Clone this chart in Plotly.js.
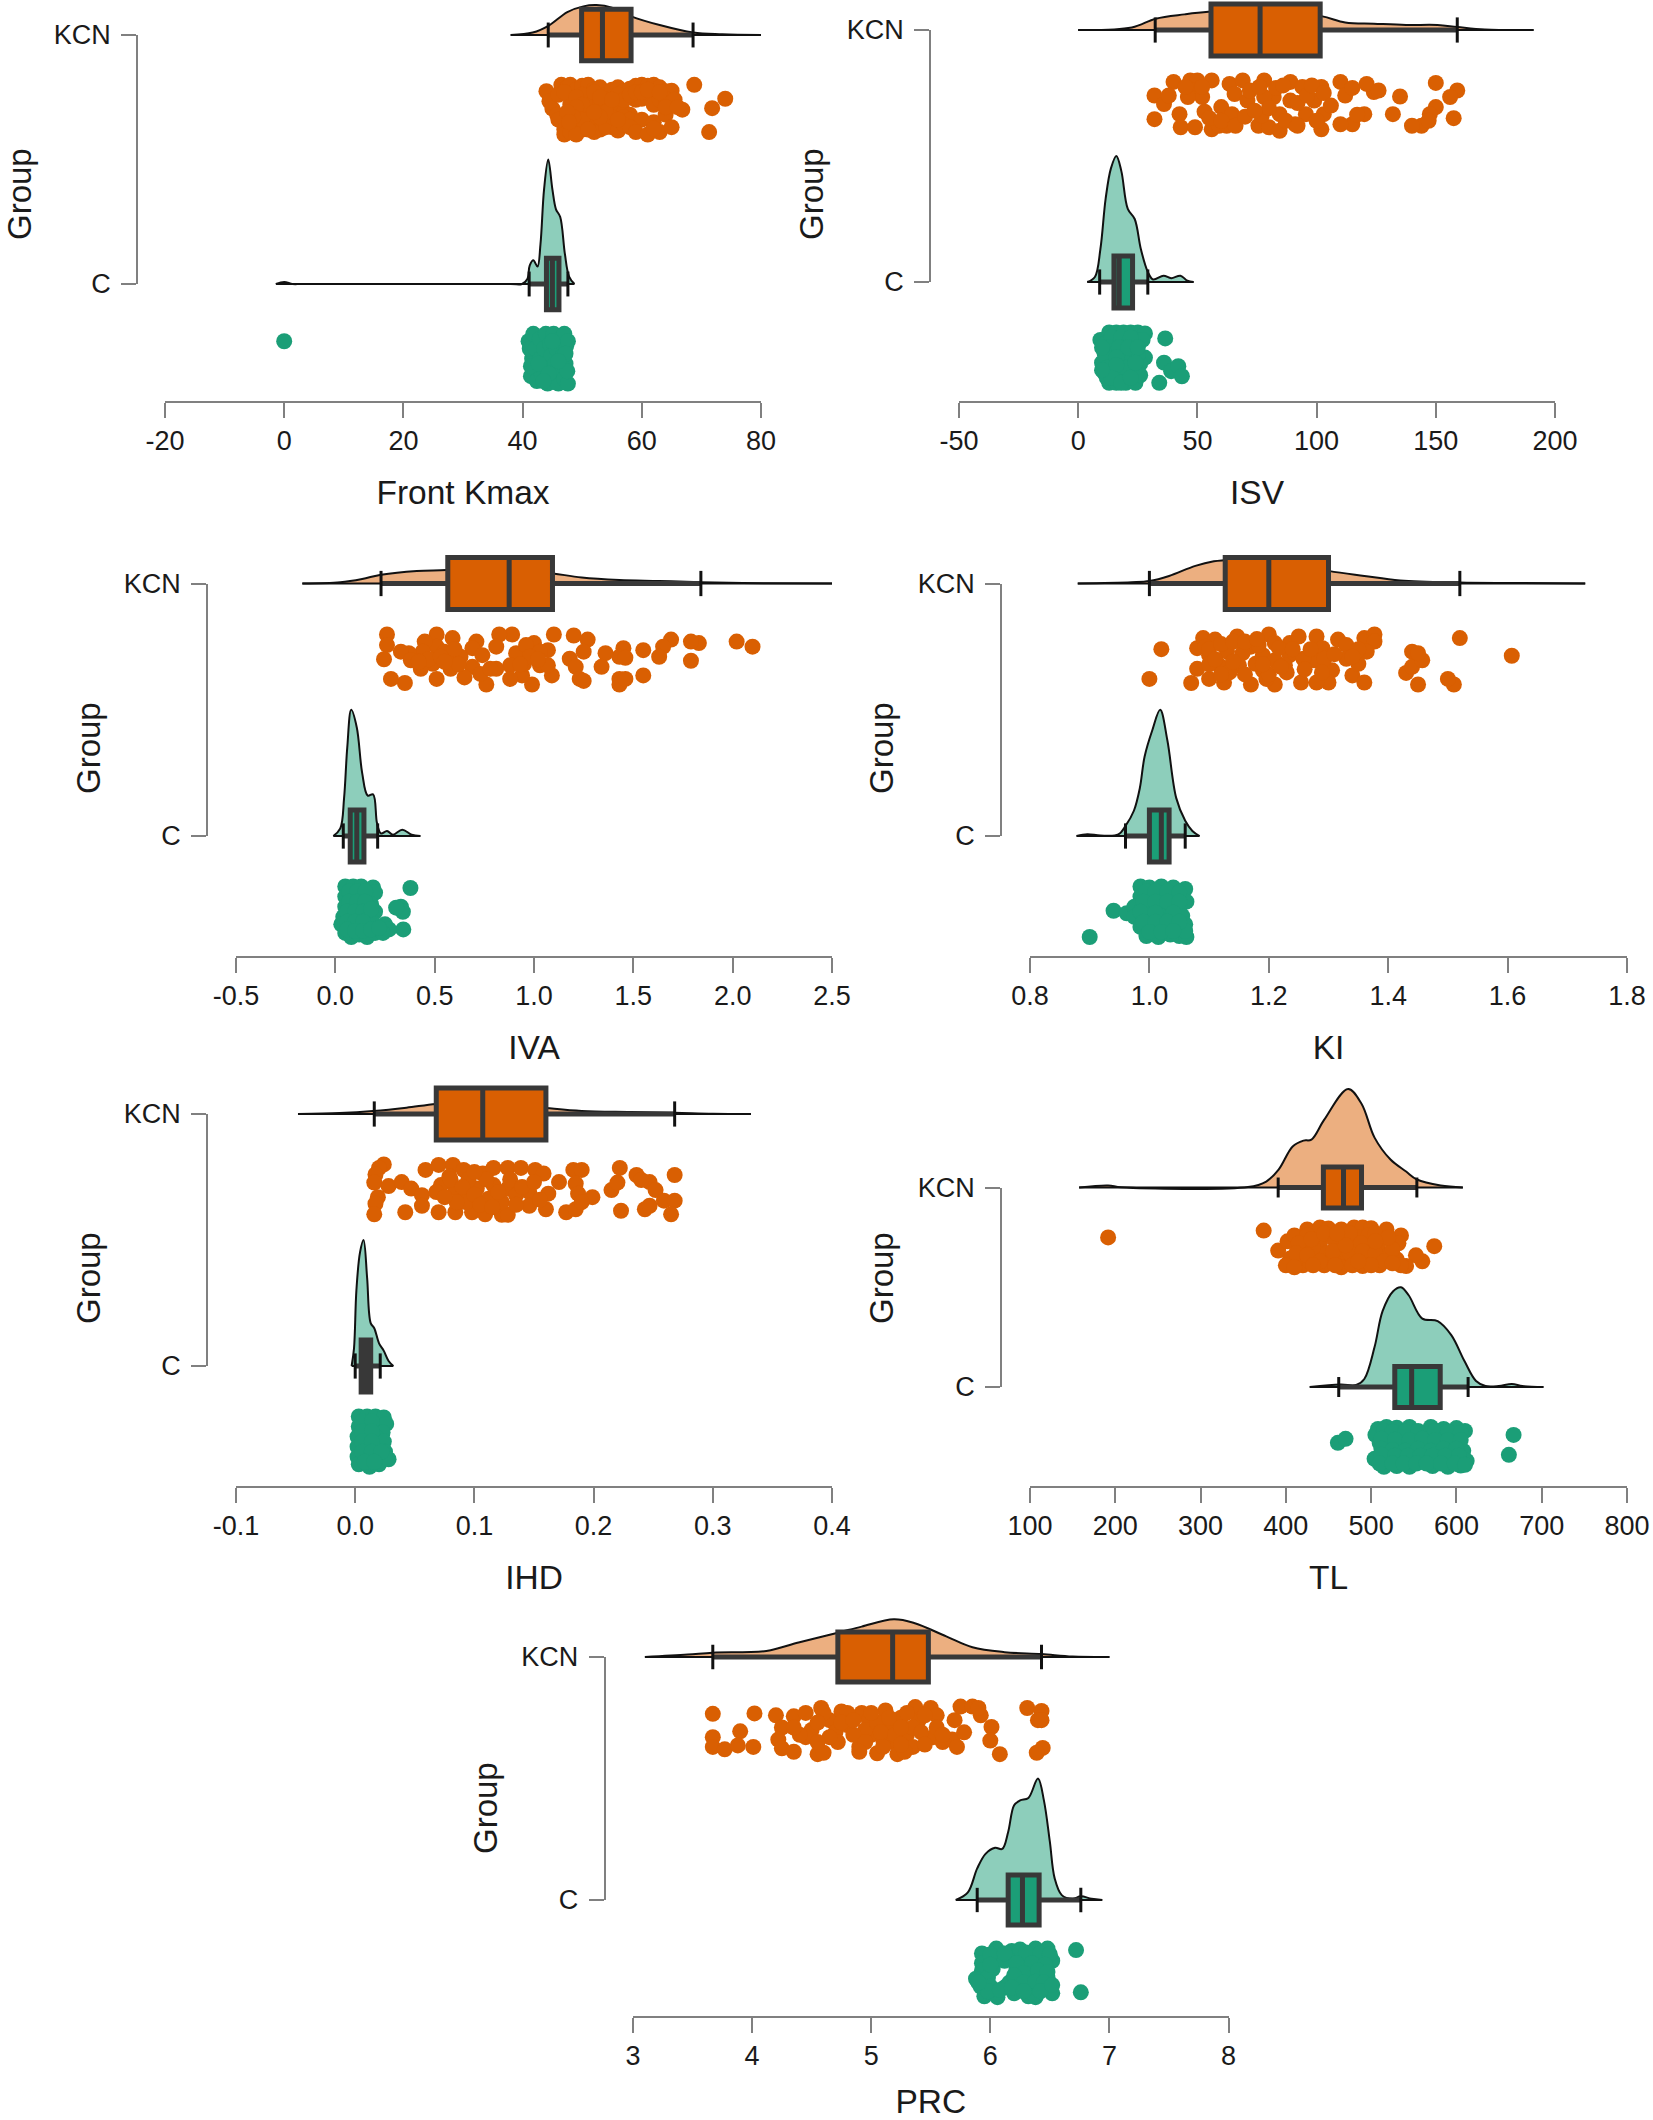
<!DOCTYPE html>
<html>
<head>
<meta charset="utf-8">
<script src="https://cdn.plot.ly/plotly-3.0.1.min.js"></script>
<style>body{margin:0;background:#fff}</style>
</head>
<body>
<div id="myDiv"></div>
<script>
// group labels, C is the lower row
let groupVals = [1, 2];
let groupText = ['C', 'KCN'];

// ---- Front Kmax
let kmaxTicks = [-20, 0, 20, 40, 60, 80];
let kmaxLabels = ['-20', '0', '20', '40', '60', '80'];
let kmaxKcnBox = [44.3, 49.9, 53.4, 58.2, 68.6];
let kmaxCBox = [41.1, 44, 45, 46.1, 47.6];
let kmaxKcnDens = [[38,0],[41.7,.01],[44.4,.038],[47.5,.092],[50.2,.115],[52.4,.12],[55,.11],[58.2,.075],[63,.04],[68.6,.01],[73.5,.003],[80,0]];
let kmaxCDens = [[-1.4,0],[0,.008],[1.4,0],[3,0],[38,0],[39.9,0],[40.8,.02],[41.2,.075],[41.8,.095],[42.5,.07],[43,.16],[43.6,.38],[44.3,.5],[45,.38],[45.6,.3],[46.3,.27],[47.1,.12],[47.8,.03],[48.7,0]];
let kmaxKcnPts = [[68.8,0],[74,.28],[71.8,.47],[71.3,.95],[44,.13],[44.5,.33],[45,.48],[45.8,.6],[46.5,0],[47.5,.05],[48,0],[49,.1],[50,.02],[51,0],[52,.1],[53,.05],[54,.2],[55,.1],[56,.05],[57,.13],[58,.08],[59,.02],[60,0],[61,.02],[62,0],[63,.05],[64,.13],[65,.12],[46,.7],[47,.9],[48,.4],[49,.6],[50,.2],[51,.5],[52,.35],[53,.4],[54,.3],[55,.6],[56,.4],[57,.55],[58,.6],[59,.3],[60,.28],[61,.25],[62,.4],[63,.3],[64,.28],[65.5,.3],[66.8,.5],[47,1],[48,.8],[49,.75],[50,.9],[51,.75],[52,.7],[53,.9],[54,.75],[55,.85],[57,.65],[58,.7],[60,.7],[62,.75],[63,.95],[64,.6],[65,.85],[48,.95],[49,1],[50,.55],[51,.7],[52,.95],[53,.5],[54,.85],[55,.65],[56,.92],[57,.8],[58,.85],[59,.95],[61,1],[62,.88],[64,.45],[66,.45],[46,.2],[47,.15],[49,.25],[50,.4],[52,.15],[53,.25],[54,.55],[56,.2],[57,.3],[58,.2],[49,.45],[50,.7],[48.5,.65],[51,.9],[53,.65],[55,.3],[59,.15],[60,.15],[61,.1],[63,.15],[47.5,.55],[52,.55],[56,.7],[47.8,.75]];
let kmaxCPts = [[0,.15],[41,.15],[41.4,.85],[41.6,.5],[41.2,.3],[41.8,0],[42,.7],[42.2,.3],[42.4,.95],[42.9,.1],[43,.5],[43.2,.8],[43.6,.3],[43.9,0],[44,.65],[44.2,1],[44.6,.2],[44.8,.45],[45,.85],[45.2,0],[45.5,.6],[45.7,.3],[46,1],[46.2,.75],[46.4,.1],[46.7,.45],[47,0],[47,.9],[47.2,.6],[47.3,.25],[47.6,1],[47.5,.75],[47.6,.15],[47.2,.4],[41.4,.65],[42.7,.6],[44.4,.8],[43.5,.95],[46,.55],[45,.15]];

// ---- ISV
let isvTicks = [-50, 0, 50, 100, 150, 200];
let isvLabels = ['-50', '0', '50', '100', '150', '200'];
let isvKcnBox = [32.3, 55.7, 76.3, 101.5, 159];
let isvCBox = [9, 15, 17.2, 22.8, 29.2];
let isvKcnDens = [[0,0],[22.5,.01],[32.5,.045],[44.6,.062],[54.6,.072],[78,.08],[102,.055],[112,.03],[124,.025],[137.5,.02],[150.7,.02],[159,.012],[170.6,.002],[191,0]];
let isvCDens = [[3.8,0],[7,.02],[9.3,.13],[11.5,.33],[13.7,.45],[16,.5],[18.1,.44],[20.8,.29],[23.7,.25],[26.3,.13],[29.2,.04],[31.4,.01],[35.8,.025],[39,.015],[42.9,.025],[45.8,.005],[48.4,0]];
let isvKcnPts = [[150,.05],[159,.2],[156,.33],[157.5,.75],[150,.53],[147.5,.67],[144,.9],[140,.9],[147,.8],[132,.67],[135,.32],[124,.23],[121,.07],[126,.2],[120,.67],[115,.87],[110,.87],[110,.03],[112,.3],[115,.15],[117,.68],[32,.3],[32,.77],[36,.47],[40,.03],[47,0],[50,0],[56,0],[49,.2],[52,.33],[42.5,.67],[43,.93],[49,.93],[56,.97],[60,.53],[59,.9],[63.5,.07],[69,0],[78,0],[65.6,.27],[71,.4],[64.5,.67],[62.3,.9],[75.6,.9],[80,.93],[84.5,1],[89,.03],[82,.33],[78,.33],[89,.4],[84.5,.67],[91,.87],[94,.13],[102,.13],[99,.4],[103,.67],[102,.97],[95.5,.67],[38,.3],[46,.33],[45,.13],[52,.13],[53,.62],[55,.75],[60,.8],[66,.9],[70,.72],[72,.2],[77,.7],[80,.55],[83,.15],[86,.1],[87,.8],[92,.45],[96,.3],[98,.1],[100,.8],[103,.25],[106,.5],[76,.13],[74,.6],[92,.9]];
let isvCPts = [[36.5,.12],[36,.6],[39,.77],[42,.67],[43.5,.87],[34,1],[9.3,.15],[13,0],[16,0],[19,0],[22,0],[25,0],[28,.02],[12,.2],[16,.2],[20,.15],[24,.2],[27,.15],[11,.4],[15,.4],[19,.4],[23,.38],[10,.6],[14,.6],[18,.6],[22,.6],[28,.5],[11,.8],[15,.75],[19,.8],[23,.75],[26,.62],[13,1],[16,1],[20,1],[24,1],[26,.85],[12,.9],[18,.88],[21,.5],[25,.45],[14,.1],[18,.1],[22,.1],[13,.3],[17,.3],[21,.3],[25,.3],[12,.5],[16,.5],[20,.7],[24,.6],[12,.7],[16,.65],[14,.9],[18,1],[22,.9],[10,.3],[10,.75]];

// ---- IVA
let ivaTicks = [-0.5, 0, 0.5, 1, 1.5, 2, 2.5];
let ivaLabels = ['-0.5', '0.0', '0.5', '1.0', '1.5', '2.0', '2.5'];
let ivaKcnBox = [.23, .566, .875, 1.093, 1.84];
let ivaCBox = [.04, .075, .108, .144, .213];
let ivaKcnDens = [[-.166,0],[.025,.005],[.135,.018],[.23,.035],[.41,.05],[.56,.053],[.85,.065],[1.096,.04],[1.24,.024],[1.43,.014],[1.63,.01],[1.84,.005],[2.18,.001],[2.5,0]];
let ivaCDens = [[-.01,0],[.025,.03],[.044,.15],[.06,.35],[.08,.5],[.108,.43],[.135,.25],[.163,.16],[.19,.165],[.21,.05],[.23,.01],[.26,.02],[.29,.005],[.337,.025],[.384,.005],[.428,0]];
let ivaKcnPts = [[2.1,.25],[2.02,.15],[1.83,.18],[1.79,.15],[1.79,.53],[1.69,.11],[1.65,.25],[1.63,.45],[1.55,.32],[1.55,.82],[1.45,.28],[1.43,.45],[1.46,.47],[1.36,.38],[1.34,.65],[1.43,.89],[1.43,1],[1.46,.89],[1.27,.11],[1.25,.35],[1.2,.03],[1.18,.49],[1.21,.65],[1.23,.89],[1.25,.93],[1.1,.01],[1.07,.32],[1.09,.82],[1.03,.62],[.99,1],[1,.18],[.94,.82],[.89,.01],[.825,.01],[.81,.25],[.91,.38],[.88,.62],[.88,.89],[.76,1],[.71,.15],[.69,.28],[.74,.42],[.69,.65],[.73,.79],[.81,.69],[.65,.86],[.59,.08],[.51,.01],[.51,.25],[.55,.35],[.59,.49],[.49,.59],[.58,.69],[.51,.89],[.45,.15],[.44,.35],[.43,.69],[.37,.38],[.33,.35],[.35,.97],[.28,.89],[.26,.01],[.26,.22],[.245,.5],[.38,.52],[.96,.22],[1.03,.35],[1.07,.62],[.63,.45],[.78,.69],[.95,.59],[.6,.3],[.62,.6],[.47,.5],[.53,.45],[.98,.45],[.93,.6],[1.02,.5],[.42,.55],[.55,.55]];
let ivaCPts = [[.378,.03],[.33,.4],[.34,.5],[.306,.42],[.342,.85],[.05,0],[.09,0],[.13,0],[.19,.02],[.05,.2],[.09,.2],[.13,.18],[.17,.15],[.2,.12],[.05,.4],[.09,.4],[.13,.4],[.18,.35],[.04,.6],[.08,.6],[.12,.6],[.16,.55],[.2,.5],[.03,.75],[.07,.78],[.11,.78],[.15,.75],[.19,.72],[.25,.75],[.27,.85],[.05,.92],[.08,1],[.12,.95],[.16,1],[.2,.92],[.24,.92],[.07,.1],[.11,.1],[.15,.1],[.07,.3],[.11,.3],[.15,.3],[.06,.5],[.1,.5],[.14,.5],[.18,.45],[.06,.7],[.1,.7],[.14,.7],[.06,.85],[.1,.88],[.14,.88],[.18,.85],[.22,.82]];

// ---- KI
let kiTicks = [.8, 1, 1.2, 1.4, 1.6, 1.8];
let kiLabels = ['0.8', '1.0', '1.2', '1.4', '1.6', '1.8'];
let kiKcnBox = [1, 1.127, 1.2, 1.3, 1.52];
let kiCBox = [.96, 1, 1.02, 1.033, 1.06];
let kiKcnDens = [[.88,0],[.97,.005],[1,.01],[1.033,.03],[1.077,.07],[1.108,.088],[1.125,.092],[1.2,.1],[1.3,.05],[1.36,.03],[1.42,.012],[1.52,.004],[1.61,.002],[1.73,0]];
let kiCDens = [[.878,0],[.896,.007],[.918,.002],[.948,.006],[.96,.04],[.974,.1],[.984,.19],[.992,.315],[1.005,.42],[1.018,.5],[1.03,.38],[1.045,.15],[1.06,.06],[1.072,.02],[1.084,0]];
let kiKcnPts = [[1.607,.43],[1.52,.08],[1.51,1],[1.5,.89],[1.45,1],[1.43,.77],[1.44,.65],[1.44,.35],[1.457,.52],[1.45,.38],[1.02,.3],[1,.89],[1.07,.97],[1.08,.69],[1.1,.89],[1.125,.96],[1.08,.28],[1.09,.08],[1.11,.11],[1.1,.42],[1.13,.35],[1.117,.62],[1.147,.05],[1.15,.62],[1.17,1],[1.17,.25],[1.2,.01],[1.21,.18],[1.19,.42],[1.21,.52],[1.19,.72],[1.21,1],[1.235,.18],[1.25,.05],[1.235,.42],[1.227,.62],[1.254,.96],[1.28,.05],[1.29,.28],[1.276,.52],[1.306,.72],[1.3,.96],[1.28,.96],[1.316,.11],[1.33,.22],[1.33,.49],[1.34,.82],[1.36,.96],[1.35,.59],[1.36,.08],[1.377,.01],[1.377,.15],[1.364,.35],[1.156,.38],[1.134,.76],[1.094,.25],[1.258,.49],[1.293,.49],[1.178,.59],[1.217,.28],[1.183,.22],[1.289,.76],[1.23,.76],[1.196,.89],[1.1,.3],[1.12,.2],[1.14,.15],[1.16,.15],[1.18,.1],[1.1,.6],[1.12,.8],[1.14,.55],[1.16,.8],[1.2,.8],[1.22,.65],[1.24,.3],[1.26,.7],[1.27,.3],[1.31,.4],[1.35,.3],[1.34,.45],[1.11,.5],[1.19,.6]];
let kiCPts = [[.9,1],[.94,.48],[.962,.53],[.985,0],[1,.02],[1.02,0],[1.04,.02],[1.06,.05],[.985,.2],[1,.22],[1.02,.18],[1.04,.22],[1.062,.3],[.975,.4],[.995,.42],[1.03,.42],[1.05,.4],[.975,.6],[1,.65],[1.02,.6],[1.04,.62],[1.055,.58],[.985,.8],[1.005,.8],[1.025,.78],[1.045,.8],[1.06,.75],[.995,.98],[1.015,1],[1.035,.95],[1.05,.98],[1.062,1],[1.06,.88],[1.015,.42],[.995,.1],[1.01,.1],[1.03,.1],[1.05,.12],[.99,.3],[1.01,.3],[1.03,.3],[1.05,.3],[.985,.5],[1.01,.52],[1.04,.52],[.99,.7],[1.01,.7],[1.03,.7],[1.05,.7],[1,.9],[1.02,.9],[1.04,.88]];

// ---- IHD
let ihdTicks = [-.1, 0, .1, .2, .3, .4];
let ihdLabels = ['-0.1', '0.0', '0.1', '0.2', '0.3', '0.4'];
let ihdKcnBox = [.016, .068, .107, .16, .268];
let ihdCBox = [0, .005, .009, .013, .021];
let ihdKcnDens = [[-.048,0],[-.013,.004],[.015,.012],[.043,.025],[.068,.04],[.107,.05],[.16,.024],[.19,.012],[.231,.008],[.268,.005],[.3,.001],[.332,0]];
let ihdCDens = [[-.003,0],[-.001,.07],[.001,.3],[.004,.45],[.007,.5],[.01,.35],[.013,.17],[.016,.15],[.02,.09],[.024,.06],[.028,.02],[.032,0]];
let ihdKcnPts = [[.024,0],[.02,.07],[.017,.2],[.016,.36],[.028,.43],[.019,.65],[.017,.78],[.016,.99],[.042,.95],[.039,.35],[.047,.48],[.059,.11],[.07,.01],[.082,.01],[.056,.61],[.056,.82],[.07,.95],[.084,.95],[.072,.41],[.079,.24],[.091,.11],[.089,.61],[.098,.95],[.109,.99],[.107,.18],[.116,.07],[.102,.48],[.112,.68],[.123,1],[.128,1],[.128,.07],[.139,.07],[.128,.48],[.123,.75],[.135,.61],[.151,.11],[.158,.18],[.146,.55],[.146,.82],[.16,.89],[.162,.58],[.171,.35],[.183,.11],[.19,.11],[.185,.38],[.187,.58],[.177,.95],[.185,.89],[.199,.65],[.19,.75],[.215,.51],[.22,.36],[.222,.07],[.223,.92],[.236,.21],[.247,.35],[.252,.51],[.259,.72],[.243,.89],[.247,.82],[.268,.21],[.268,.72],[.265,.99],[.24,.31],[.093,.75],[.068,.55],[.084,.48],[.116,.41],[.08,.3],[.095,.3],[.11,.3],[.09,.45],[.1,.6],[.085,.75],[.105,.8],[.12,.55],[.13,.3],[.14,.45],[.075,.65],[.1,.15],[.115,.85],[.135,.8],[.15,.35],[.155,.7]];
let ihdCPts = [[.003,0],[.01,0],[.017,0],[.024,.02],[.003,.2],[.01,.2],[.017,.2],[.026,.15],[.023,.32],[.002,.4],[.01,.4],[.018,.42],[.002,.6],[.01,.6],[.018,.6],[.024,.5],[.002,.8],[.01,.8],[.018,.8],[.025,.7],[.003,.95],[.012,1],[.02,.95],[.028,.85],[.006,.1],[.014,.1],[.006,.3],[.014,.3],[.006,.5],[.014,.5],[.006,.7],[.014,.7],[.022,.7],[.008,.9],[.016,.9]];

// ---- TL
let tlTicks = [100, 200, 300, 400, 500, 600, 700, 800];
let tlLabels = ['100', '200', '300', '400', '500', '600', '700', '800'];
let tlKcnBox = [391, 444, 467.6, 488.7, 553.6];
let tlCBox = [462, 527.7, 547.5, 581, 613.7];
let tlKcnDens = [[157.6,0],[191.6,.01],[207,.001],[355.6,.002],[377,.03],[391.5,.09],[408,.206],[420.6,.235],[430,.24],[445,.34],[473,.494],[488.7,.42],[504,.25],[522.7,.14],[541,.08],[553.7,.04],[581.5,.01],[607.5,0]];
let tlCDens = [[428,0],[464,.012],[482.5,.01],[492,.04],[504,.2],[513.4,.38],[525.8,.48],[535,.5],[544,.46],[560,.343],[578,.33],[594,.26],[609.4,.13],[623,.03],[634,.005],[649.6,.005],[665,.015],[677.4,.005],[702,0]];
let tlKcnPts = [[191.6,.25],[374,.08],[391,.58],[574,.47],[560,.85],[552.5,.7],[541,.97],[402,.35],[410,.2],[405,.78],[400,.95],[418,.55],[425,.05],[440,0],[450,.03],[420,.95],[425,.2],[435,.7],[440,.4],[452,.2],[448,.65],[445,.95],[465,.05],[470,.3],[462,.55],[468,.8],[465,1],[480,0],[490,0],[500,.02],[485,.25],[478,.5],[482,.75],[490,.97],[497,.2],[495,.5],[500,.75],[510,.95],[518,.05],[512,.3],[508,.5],[520,.7],[535,.2],[532,.4],[530,.8],[535,.95],[525,.55],[455,.8],[428,.85],[432,.5],[415,.4],[430,.3],[445,.15],[458,.35],[475,.15],[488,.4],[505,.15],[520,.25],[412,.65],[425,.7],[440,.85],[455,.6],[475,.65],[490,.6],[505,.65],[515,.85],[458,.95],[478,.95],[500,.95],[525,.9],[410,1],[432,.95],[470,.45],[485,.85],[505,.35],[460,.15]];
let tlCPts = [[461,.4],[470,.3],[667,.2],[661.5,.7],[508,.05],[518,0],[530,.02],[545,0],[570,0],[585,.05],[600,.03],[610,.1],[505,.2],[520,.2],[535,.25],[550,.2],[565,.18],[580,.25],[595,.2],[510,.4],[525,.45],[540,.4],[555,.42],[570,.45],[585,.42],[600,.45],[518,.6],[532,.62],[548,.6],[562,.6],[578,.65],[592,.6],[608,.6],[504,.8],[520,.82],[535,.8],[550,.82],[565,.8],[580,.85],[596,.8],[612,.85],[515,1],[530,.98],[545,1],[572,.98],[590,1],[605,.97],[515,.1],[525,.12],[540,.12],[555,.1],[575,.1],[590,.12],[605,.15],[512,.3],[528,.32],[545,.33],[560,.3],[575,.33],[590,.33],[605,.33],[512,.55],[525,.58],[540,.6],[555,.55],[570,.6],[585,.55],[600,.55],[512,.7],[528,.72],[543,.72],[558,.72],[572,.72],[587,.72],[603,.72],[510,.92],[525,.92],[538,.92],[553,.92],[565,.92],[582,.92],[598,.92],[610,.95]];

// ---- PRC
let prcTicks = [3, 4, 5, 6, 7, 8];
let prcLabels = ['3', '4', '5', '6', '7', '8'];
let prcKcnBox = [3.67, 4.72, 5.18, 5.48, 6.43];
let prcCBox = [5.89, 6.15, 6.27, 6.41, 6.76];
let prcKcnDens = [[3.1,0],[3.46,.01],[3.67,.018],[4.12,.025],[4.39,.06],[4.72,.1],[4.92,.125],[5.19,.155],[5.36,.14],[5.63,.085],[5.85,.04],[6.12,.02],[6.43,.012],[6.69,.002],[7,0]];
let prcCDens = [[5.71,0],[5.81,.03],[5.89,.13],[5.96,.19],[6.04,.215],[6.1,.21],[6.15,.28],[6.2,.39],[6.25,.41],[6.32,.42],[6.4,.5],[6.45,.41],[6.5,.24],[6.54,.09],[6.6,.02],[6.69,.005],[6.76,.015],[6.85,.005],[6.94,0]];
let prcKcnPts = [[3.67,.17],[4.02,.16],[3.9,.53],[3.67,.65],[3.67,.85],[3.77,.9],[3.88,.82],[4.01,.85],[4.2,.2],[6.31,.05],[6.43,.11],[6.4,.3],[6.43,.3],[6.44,.87],[6.39,.97],[6.08,1],[6.01,.44],[6,.72],[4.25,.45],[4.22,.7],[4.25,.88],[4.35,.95],[4.35,.22],[4.45,.15],[4.5,.5],[4.45,.65],[4.55,1],[4.6,.97],[4.58,.05],[4.65,.3],[4.7,.55],[4.72,.75],[4.75,.12],[4.8,.4],[4.9,.85],[4.92,.15],[4.98,.3],[5,.6],[5.05,.98],[5.12,.1],[5.15,.45],[5.18,.75],[5.22,1],[5.25,.25],[5.3,.6],[5.35,.85],[5.37,.03],[5.4,.3],[5.5,.05],[5.55,.2],[5.52,.65],[5.6,.75],[5.68,.7],[5.7,.3],[5.75,.02],[5.72,.85],[5.85,.02],[5.92,.2],[5.9,.05],[5.78,.55],[5.1,.7],[4.95,.5],[5.28,.95],[5.05,.35],[4.6,.15],[4.65,.65],[4.8,.15],[4.85,.6],[4.75,.35],[4.85,.3],[4.95,.75],[5,.15],[5.08,.55],[5.15,.25],[5.2,.6],[5.25,.8],[5.3,.15],[5.35,.45],[5.45,.2],[5.42,.55],[5.55,.45],[5.6,.6],[5.25,.45],[5.1,.85],[4.9,.95],[4.4,.6],[4.35,.45],[4.55,.35],[4.55,.75],[5.45,.8]];
let prcCPts = [[6.72,.03],[6.76,.9],[5.93,.1],[6.05,0],[6.18,.05],[6.25,.02],[6.38,0],[6.48,0],[5.93,.3],[6.05,.25],[6.15,.22],[6.28,.2],[6.4,.2],[6.52,.25],[5.93,.45],[6.02,.42],[6.22,.42],[6.33,.42],[6.45,.45],[5.88,.62],[5.98,.6],[6.25,.6],[6.38,.58],[6.48,.6],[5.92,.78],[6,.78],[6.12,.8],[6.25,.78],[6.36,.78],[6.48,.8],[5.95,.98],[6.06,1],[6.2,.92],[6.32,.98],[6.38,1],[6.52,.92],[6.16,.7],[6.12,.25],[6,.12],[6.12,.1],[6.3,.08],[6.42,.1],[6.5,.12],[6,.33],[6.22,.3],[6.35,.3],[6.46,.33],[6.28,.5],[6.4,.45],[6.48,.48],[6.2,.55],[6.28,.7],[6.38,.68],[6.45,.7],[5.98,.88],[6.08,.85],[6.18,.8],[6.28,.88],[6.42,.88],[5.9,.7],[6.52,.75]];

// one entry per plot
let plots = [
    {name: 'Front Kmax', ticks: kmaxTicks, labels: kmaxLabels, kcnBox: kmaxKcnBox, cBox: kmaxCBox, kcnDens: kmaxKcnDens, cDens: kmaxCDens, kcnPts: kmaxKcnPts, cPts: kmaxCPts},
    {name: 'ISV', ticks: isvTicks, labels: isvLabels, kcnBox: isvKcnBox, cBox: isvCBox, kcnDens: isvKcnDens, cDens: isvCDens, kcnPts: isvKcnPts, cPts: isvCPts},
    {name: 'IVA', ticks: ivaTicks, labels: ivaLabels, kcnBox: ivaKcnBox, cBox: ivaCBox, kcnDens: ivaKcnDens, cDens: ivaCDens, kcnPts: ivaKcnPts, cPts: ivaCPts},
    {name: 'KI', ticks: kiTicks, labels: kiLabels, kcnBox: kiKcnBox, cBox: kiCBox, kcnDens: kiKcnDens, cDens: kiCDens, kcnPts: kiKcnPts, cPts: kiCPts},
    {name: 'IHD', ticks: ihdTicks, labels: ihdLabels, kcnBox: ihdKcnBox, cBox: ihdCBox, kcnDens: ihdKcnDens, cDens: ihdCDens, kcnPts: ihdKcnPts, cPts: ihdCPts},
    {name: 'TL', ticks: tlTicks, labels: tlLabels, kcnBox: tlKcnBox, cBox: tlCBox, kcnDens: tlKcnDens, cDens: tlCDens, kcnPts: tlKcnPts, cPts: tlCPts},
    {name: 'PRC', ticks: prcTicks, labels: prcLabels, kcnBox: prcKcnBox, cBox: prcCBox, kcnDens: prcKcnDens, cDens: prcCDens, kcnPts: prcKcnPts, cPts: prcCPts}
];

// page geometry in pixels: left/right of x axis, x axis y, KCN row, C row, bracket x, top of plot, Group title x/y
let W = 1653, H = 2120;
let frames = [
    {l: 165, r: 761, axis: 401, kcn: 35, c: 284, br: 137, top: 0, gx: 19, gy: 194},
    {l: 959, r: 1555, axis: 401, kcn: 30, c: 282, br: 930, top: 0, gx: 811, gy: 194},
    {l: 236, r: 832, axis: 956, kcn: 583.5, c: 836, br: 207, top: 540, gx: 88, gy: 748},
    {l: 1030, r: 1627, axis: 956, kcn: 583.5, c: 836, br: 1001, top: 540, gx: 881, gy: 748},
    {l: 236, r: 832, axis: 1486, kcn: 1114, c: 1366, br: 207, top: 1075, gx: 88, gy: 1278},
    {l: 1030, r: 1627, axis: 1486, kcn: 1187.5, c: 1387, br: 1001, top: 1075, gx: 881, gy: 1278},
    {l: 633, r: 1228.5, axis: 2016, kcn: 1657, c: 1900, br: 604.5, top: 1610, gx: 485, gy: 1808}
];

let orange = '#D95F02', green = '#1B9E77';
let orangeFill = 'rgba(217,95,2,0.5)', greenFill = 'rgba(27,158,119,0.5)';
let fontName = 'Liberation Sans, Arial, sans-serif';
let axisGrey = '#808080', textCol = '#1a1a1a';

let traces = [];
let layout = {
    width: W, height: H, margin: {l: 0, r: 0, t: 0, b: 0},
    paper_bgcolor: '#fff', plot_bgcolor: 'rgba(0,0,0,0)',
    showlegend: false, boxmode: 'overlay', hovermode: false,
    annotations: []
};

function addGroup(p, base, dens, box, pts, col, fill, xRef, yDens, yTop) {
    traces.push({type: 'scatter', mode: 'lines', xaxis: xRef, yaxis: yDens,
        x: dens.map(d => d[0]), y: dens.map(d => base + d[1]),
        fill: 'toself', fillcolor: fill,
        line: {color: '#111', width: 2, shape: 'spline', smoothing: 1}});
    // baseline of the density
    traces.push({type: 'scatter', mode: 'lines', xaxis: xRef, yaxis: yDens,
        x: [dens[0][0], dens[dens.length - 1][0]], y: [base, base],
        line: {color: '#111', width: 2}});
    traces.push({type: 'box', orientation: 'h', xaxis: xRef, yaxis: yTop,
        y: [base], lowerfence: [box[0]], q1: [box[1]], median: [box[2]], q3: [box[3]], upperfence: [box[4]],
        width: 0.206, whiskerwidth: 0, boxpoints: false,
        fillcolor: col, line: {color: '#383838', width: 5}});
    traces.push({type: 'scatter', mode: 'lines', xaxis: xRef, yaxis: yTop,
        x: [box[0], box[0], null, box[4], box[4]],
        y: [base + 0.05, base - 0.05, null, base + 0.05, base - 0.05],
        line: {color: '#111', width: 3}});
    traces.push({type: 'scatter', mode: 'markers', xaxis: xRef, yaxis: yTop,
        x: pts.map(d => d[0]), y: pts.map(d => base - 0.2 - 0.2 * d[1]),
        marker: {color: col, size: 16, line: {width: 0}}});
}

plots.forEach((p, i) => {
    let f = frames[i];
    let unit = f.c - f.kcn;
    let xName = i === 0 ? 'xaxis' : 'xaxis' + (i + 1);
    let xRef = i === 0 ? 'x' : 'x' + (i + 1);
    let a = 3 * i + 1;
    let yDens = a === 1 ? 'y' : 'y' + a, yTop = 'y' + (a + 1), yBr = 'y' + (a + 2);
    let yRange = [1 - (f.axis - f.c) / unit, 2 + (f.kcn - f.top) / unit];

    layout[xName] = {
        domain: [f.l / W, f.r / W], range: [p.ticks[0], p.ticks[p.ticks.length - 1]],
        anchor: yDens, side: 'bottom', showgrid: false, zeroline: false,
        showline: true, linecolor: axisGrey, linewidth: 1.6,
        ticks: 'outside', ticklen: 15, tickwidth: 1.6, tickcolor: axisGrey,
        tickmode: 'array', tickvals: p.ticks, ticktext: p.labels,
        tickfont: {family: fontName, size: 27, color: textCol},
        title: {text: p.name, standoff: 25, font: {family: fontName, size: 33.5, color: textCol}}
    };
    layout['yaxis' + (a === 1 ? '' : a)] = {
        domain: [1 - f.axis / H, 1 - f.top / H], range: yRange, visible: false, anchor: xRef
    };
    layout['yaxis' + (a + 1)] = {
        range: yRange, visible: false, anchor: xRef, overlaying: yDens, type: 'linear'
    };
    // KCN to C bracket with the group labels
    layout['yaxis' + (a + 2)] = {
        domain: [1 - f.c / H, 1 - f.kcn / H], range: [1, 2], anchor: 'free', position: f.br / W, side: 'left',
        showgrid: false, zeroline: false, showline: true, linecolor: axisGrey, linewidth: 1.6,
        ticks: 'outside', ticklen: 15, tickwidth: 1.6, tickcolor: axisGrey,
        tickmode: 'array', tickvals: groupVals, ticktext: groupText, ticklabelstandoff: 5,
        tickfont: {family: fontName, size: 27, color: textCol}
    };
    traces.push({type: 'scatter', mode: 'markers', xaxis: xRef, yaxis: yBr,
        x: [p.ticks[0], p.ticks[0]], y: groupVals, marker: {opacity: 0, size: 1}});

    addGroup(p, 2, p.kcnDens, p.kcnBox, p.kcnPts, orange, orangeFill, xRef, yDens, yTop);
    addGroup(p, 1, p.cDens, p.cBox, p.cPts, green, greenFill, xRef, yDens, yTop);

    layout.annotations.push({
        text: 'Group', xref: 'paper', yref: 'paper', x: f.gx / W, y: 1 - f.gy / H,
        xanchor: 'center', yanchor: 'middle', textangle: -90, showarrow: false,
        font: {family: fontName, size: 33, color: textCol}
    });
});

Plotly.newPlot('myDiv', traces, layout, {displayModeBar: false});
</script>
</body>
</html>
